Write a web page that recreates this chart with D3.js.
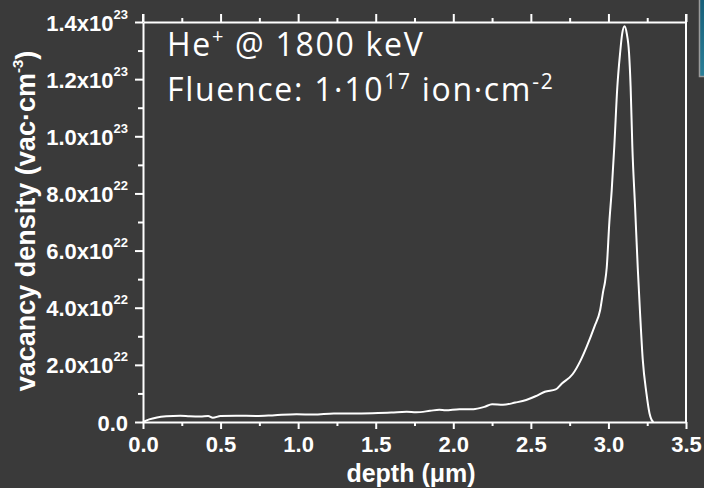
<!DOCTYPE html>
<html><head><meta charset="utf-8">
<script src="https://cdn.jsdelivr.net/npm/d3@7"></script>
<style>
html,body{margin:0;padding:0;background:#3a3a3a;}
svg{display:block;}
</style></head>
<body>
<script>
const depth = [0,0.04,0.09,0.15,0.24,0.30,0.37,0.42,0.45,0.50,0.60,0.73,0.85,0.99,1.10,1.23,1.35,1.48,1.60,1.70,1.76,1.85,1.91,1.95,2.04,2.13,2.20,2.25,2.32,2.40,2.47,2.53,2.59,2.66,2.70,2.77,2.82,2.86,2.91,2.946,2.967,2.978,2.989,3.006,3.021,3.038,3.057,3.075,3.089,3.104,3.118,3.133,3.143,3.154,3.172,3.189,3.204,3.221,3.245,3.265,3.278,3.29];
const vacancy = [0,0.9e21,1.6e21,2.0e21,2.2e21,2.0e21,1.9e21,2.1e21,1.5e21,2.1e21,2.2e21,2.1e21,2.4e21,2.7e21,2.6e21,3.0e21,3.0e21,3.1e21,3.3e21,3.6e21,3.4e21,3.9e21,4.3e21,4.1e21,4.5e21,4.5e21,5.3e21,6.2e21,6.0e21,6.8e21,7.7e21,9.0e21,1.06e22,1.14e22,1.35e22,1.68e22,2.15e22,2.64e22,3.34e22,3.9e22,4.6e22,4.9e22,5.4e22,7.0e22,8.1e22,9.66e22,1.17e23,1.29e23,1.36e23,1.385e23,1.36e23,1.29e23,1.174e23,9.66e22,7.5e22,5.4e22,3.8e22,2.2e22,1.0e22,3.0e21,8e20,0];
const xTicks = [0,0.5,1.0,1.5,2.0,2.5,3.0,3.5];
const xMinor = [0.25,0.75,1.25,1.75,2.25,2.75,3.25];
const yTicks = [0,2e22,4e22,6e22,8e22,1e23,1.2e23,1.4e23];
const yMinor = [1e22,3e22,5e22,7e22,9e22,1.1e23,1.3e23];
const yMant = ["0.0","2.0x10","4.0x10","6.0x10","8.0x10","1.0x10","1.2x10","1.4x10"];
const yExp = ["","22","22","22","22","23","23","23"];
const titleLine1 = ["He","+"," @ 1800 keV"];
const titleLine2 = ["Fluence: 1·10","17"," ion·cm","-2"];

const W=704,H=488;
const m={l:143,t:22,r:18,b:66};
const svg=d3.select("body").append("svg").attr("width",W).attr("height",H);
svg.append("rect").attr("width",W).attr("height",H).attr("fill","#3a3a3a");

const x=d3.scaleLinear().domain([0,3.5]).range([m.l,W-m.r]);
const y=d3.scaleLinear().domain([0,1.4e23]).range([H-m.b,m.t]);
const font="'Liberation Sans', Arial, sans-serif";
const axc="#ffffff";

function style(g){
  g.selectAll("path.domain").attr("stroke",axc).attr("stroke-width",2);
  g.selectAll(".tick line").attr("stroke",axc).attr("stroke-width",2);
}
// bottom axis
const gx=svg.append("g").attr("transform",`translate(0,${H-m.b})`)
  .call(d3.axisBottom(x).tickValues(xTicks).tickSize(7).tickSizeOuter(0).tickFormat(d3.format(".1f")));
style(gx);
gx.selectAll(".tick text").attr("fill","#fff").attr("font-family",font).attr("font-weight","bold").attr("font-size",22).attr("dy","0.92em");
const gxm=svg.append("g").attr("transform",`translate(0,${H-m.b})`)
  .call(d3.axisBottom(x).tickValues(xMinor).tickSize(4).tickFormat(""));
gxm.select("path.domain").remove(); style(gxm);
// top axis
const gt=svg.append("g").attr("transform",`translate(0,${m.t})`)
  .call(d3.axisTop(x).tickValues(xTicks).tickSize(8).tickSizeOuter(0).tickFormat(""));
style(gt);
const gtm=svg.append("g").attr("transform",`translate(0,${m.t})`)
  .call(d3.axisTop(x).tickValues(xMinor).tickSize(4).tickFormat(""));
gtm.select("path.domain").remove(); style(gtm);
// left axis
const gy=svg.append("g").attr("transform",`translate(${m.l},0)`)
  .call(d3.axisLeft(y).tickValues(yTicks).tickSize(8).tickSizeOuter(0).tickFormat(""));
style(gy);
gy.selectAll(".tick").each(function(d,i){
  const t=d3.select(this).append("text").attr("fill","#fff").attr("font-family",font)
    .attr("font-weight","bold").attr("text-anchor","end").attr("x",-15).attr("y",8).attr("font-size",22);
  t.append("tspan").text(yMant[i]);
  if(yExp[i]) t.append("tspan").attr("font-size",13).attr("dy",-12).text(yExp[i]);
});
const gym=svg.append("g").attr("transform",`translate(${m.l},0)`)
  .call(d3.axisLeft(y).tickValues(yMinor).tickSize(5).tickFormat(""));
gym.select("path.domain").remove(); style(gym);
// right axis
svg.append("line").attr("x1",W-m.r).attr("x2",W-m.r).attr("y1",m.t-8).attr("y2",H-m.b+1).attr("stroke",axc).attr("stroke-width",2);
svg.append("line").attr("x1",m.l).attr("x2",m.l).attr("y1",m.t-8).attr("y2",m.t).attr("stroke",axc).attr("stroke-width",2);

// curve
const line=d3.line().x((d,i)=>x(depth[i])).y((d,i)=>y(vacancy[i])).curve(d3.curveMonotoneX);
svg.append("path").datum(vacancy).attr("d",line).attr("fill","none").attr("stroke","#fff").attr("stroke-width",2);

// axis titles
svg.append("text").attr("x",411).attr("y",482).attr("text-anchor","middle").attr("fill","#fff")
  .attr("font-family",font).attr("font-weight","bold").attr("font-size",25)
  .text("depth (μm)");
const yl=svg.append("text").attr("transform","translate(35,221) rotate(-90)").attr("text-anchor","middle")
  .attr("fill","#fff").attr("font-family",font).attr("font-weight","bold").attr("font-size",27);
yl.append("tspan").text("vacancy density (vac·cm");
yl.append("tspan").attr("font-size",15).attr("dy",-12).text("-3");
yl.append("tspan").attr("dy",12).text(")");

// annotation
const tf="'Open Sans', 'Noto Sans', sans-serif";
const t1=svg.append("text").attr("x",167).attr("y",56).attr("fill","#fff").attr("font-family",tf).attr("font-size",32).attr("letter-spacing",1.7);
t1.append("tspan").text(titleLine1[0]);
t1.append("tspan").attr("font-size",20).attr("dy",-13).text(titleLine1[1]);
t1.append("tspan").attr("dy",13).text(titleLine1[2]);
const t2=svg.append("text").attr("x",167).attr("y",101).attr("fill","#fff").attr("font-family",tf).attr("font-size",32).attr("letter-spacing",1.7);
t2.append("tspan").text(titleLine2[0]);
t2.append("tspan").attr("font-size",21).attr("dy",-12).text(titleLine2[1]);
t2.append("tspan").attr("dy",12).text(titleLine2[2]);
t2.append("tspan").attr("font-size",21).attr("dy",-12).text(titleLine2[3]);

// partial element at top-right edge
const gr=svg.append("defs").append("linearGradient").attr("id","tg").attr("x1",0).attr("x2",0).attr("y1",0).attr("y2",1);
gr.append("stop").attr("offset",0).attr("stop-color","#17607a");
gr.append("stop").attr("offset",1).attr("stop-color","#2a7f98");
svg.append("rect").attr("x",699.5).attr("y",-2).attr("width",10).attr("height",78.5).attr("fill","url(#tg)").attr("stroke","#9a9a9a").attr("stroke-width",1.5);
</script>
</body></html>
